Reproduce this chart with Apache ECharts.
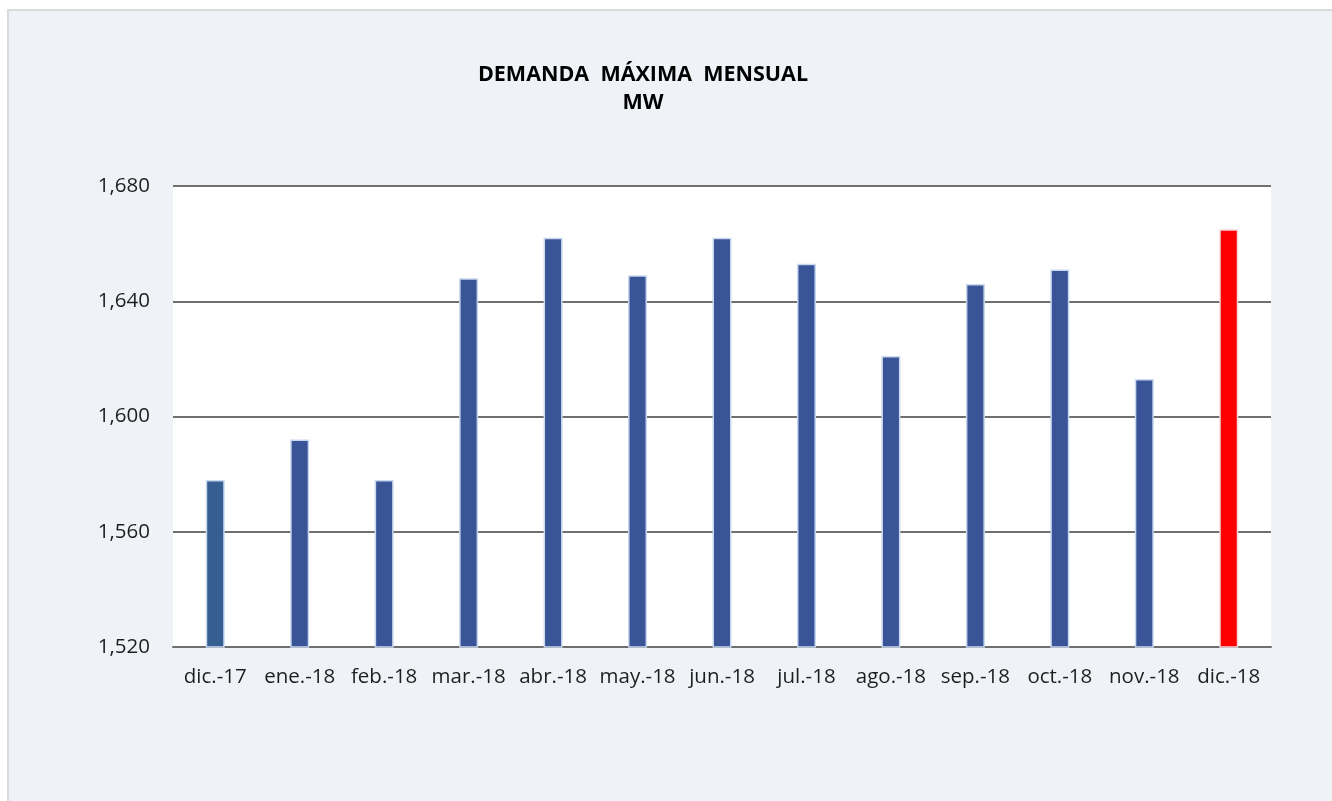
<!DOCTYPE html>
<html>
<head>
<meta charset="UTF-8"/>
<script src="https://cdn.jsdelivr.net/npm/echarts@6/dist/echarts.min.js"></script>
<style>
  body { margin: 0; background: #ffffff; }
  #main { position: absolute; left: 7px; top: 9px; width: 1323px; height: 790px;
          border-left: 2px solid #dadada; border-top: 2px solid #dadada; background: #eff3f7; }
</style>
</head>
<body>
<div id="main"></div>
<script type="text/javascript">
// meses
var categories = ['dic.-17', 'ene.-18', 'feb.-18', 'mar.-18', 'abr.-18', 'may.-18', 'jun.-18',
                  'jul.-18', 'ago.-18', 'sep.-18', 'oct.-18', 'nov.-18', 'dic.-18'];
// demanda maxima MW
var demanda = [1578, 1592, 1578, 1648, 1662, 1649, 1662, 1653, 1621, 1646, 1651, 1613, 1665];
var barColors = ['#365f91', '#3a5597', '#3a5597', '#3a5597', '#3a5597', '#3a5597', '#3a5597',
                 '#3a5597', '#3a5597', '#3a5597', '#3a5597', '#3a5597', '#ff0000'];
var yTicks = [1520, 1560, 1600, 1640, 1680];

var myChart = echarts.init(document.getElementById('main'));
var gridColor = '#6f6f6f';

var option = {
    backgroundColor: '#eff3f7',
    animation: false,
    title: {
        text: 'DEMANDA  MÁXIMA  MENSUAL\nMW',
        left: 629, top: 45, textAlign: 'center',
        textStyle: { fontFamily: 'Open Sans', fontSize: 21.5, fontWeight: 'bold', color: '#000', lineHeight: 28 }
    },
    grid: { left: 164, right: 61, top: 175, bottom: 154, backgroundColor: '#ffffff', show: true, borderWidth: 0 },
    xAxis: {
        type: 'category',
        data: categories,
        axisLine: { lineStyle: { color: gridColor, width: 2 } },
        axisTick: { show: false },
        axisLabel: { margin: 20, fontFamily: 'Open Sans', fontSize: 20.5, color: '#1e1e1e', interval: 0 }
    },
    yAxis: {
        type: 'value',
        min: yTicks[0], max: yTicks[yTicks.length - 1], interval: 40,
        axisLine: { show: false },
        axisTick: { show: false },
        splitLine: { lineStyle: { color: gridColor, width: 2 } },
        axisLabel: {
            margin: 23, fontFamily: 'Open Sans', fontSize: 20.5, color: '#1e1e1e',
            formatter: function (v) { return v.toLocaleString('en-US'); }
        }
    },
    series: [{
        name: 'MW',
        type: 'bar',
        barWidth: 19,
        z: 3,
        data: demanda.map(function (v, i) {
            return {
                value: v,
                itemStyle: { color: barColors[i], borderColor: i == 12 ? '#f3d6dc' : '#c9d8ee', borderWidth: 1.5 }
            };
        })
    }]
};
myChart.setOption(option);
</script>
</body>
</html>
